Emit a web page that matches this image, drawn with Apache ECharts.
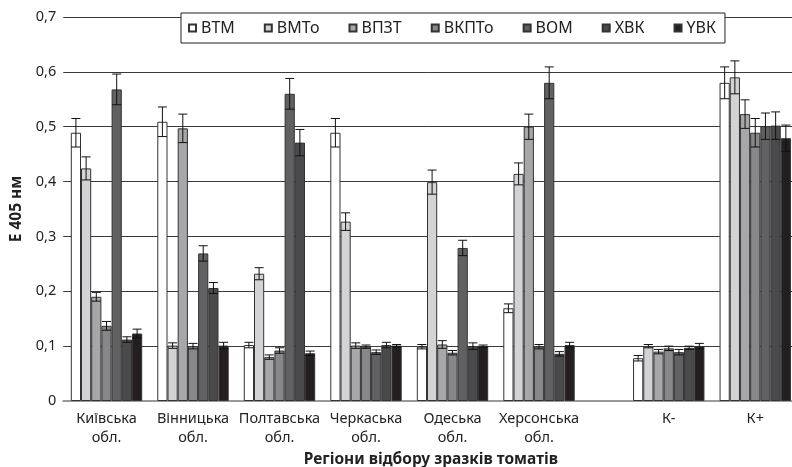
<!DOCTYPE html>
<html>
<head>
<meta charset="utf-8">
<script src="https://cdn.jsdelivr.net/npm/echarts@6/dist/echarts.min.js"></script>
<style>html,body{margin:0;padding:0;background:#fff}#c{width:792px;height:467px}</style>
</head>
<body>
<div id="c"></div>
<script>
// ---- data ----
var categories = ['Київська\nобл.', 'Вінницька\nобл.', 'Полтавська\nобл.', 'Черкаська\nобл.', 'Одеська\nобл.', 'Херсонська\nобл.', 'К-', 'К+'];
var seriesNames = ['ВТМ', 'ВМТо', 'ВПЗТ', 'ВКПТо', 'ВОМ', 'ХВК', 'YВК'];
var vTMV   = [0.489, 0.509, 0.102, 0.489, 0.099, 0.169, 0.078, 0.580];
var vMTo   = [0.424, 0.101, 0.232, 0.327, 0.399, 0.414, 0.100, 0.590];
var vPZT   = [0.190, 0.497, 0.080, 0.101, 0.103, 0.500, 0.090, 0.523];
var vKPTo  = [0.137, 0.100, 0.092, 0.099, 0.088, 0.099, 0.096, 0.489];
var vOM    = [0.568, 0.269, 0.560, 0.089, 0.279, 0.580, 0.089, 0.501];
var vHVK   = [0.112, 0.206, 0.471, 0.102, 0.100, 0.086, 0.097, 0.502];
var vYVK   = [0.123, 0.101, 0.087, 0.101, 0.100, 0.102, 0.100, 0.479];
var eTMV   = [0.026, 0.027, 0.005, 0.026, 0.004, 0.008, 0.005, 0.029];
var eMTo   = [0.021, 0.005, 0.011, 0.016, 0.022, 0.020, 0.003, 0.030];
var ePZT   = [0.008, 0.026, 0.004, 0.005, 0.007, 0.023, 0.004, 0.026];
var eKPTo  = [0.008, 0.005, 0.005, 0.003, 0.004, 0.004, 0.004, 0.026];
var eOM    = [0.028, 0.014, 0.028, 0.004, 0.014, 0.029, 0.005, 0.024];
var eHVK   = [0.005, 0.010, 0.024, 0.005, 0.006, 0.004, 0.003, 0.025];
var eYVK   = [0.008, 0.006, 0.004, 0.002, 0.002, 0.005, 0.005, 0.024];
var yTicks = [0, 0.1, 0.2, 0.3, 0.4, 0.5, 0.6, 0.7];

// ---- layout (not data) ----
var groupSlots = [1, 3, 5, 7, 9, 11, 14, 16];
var slotCount = 18;
var colors = ['#ffffff', '#d3d3d5', '#a7a7a9', '#87878a', '#616163', '#4a4a4c', '#231f20'];
var BAR_W = 10.2;
var FONT = '"Noto Sans", "Open Sans", sans-serif';

var values = [vTMV, vMTo, vPZT, vKPTo, vOM, vHVK, vYVK];
var errors = [eTMV, eMTo, ePZT, eKPTo, eOM, eHVK, eYVK];

var axisCats = [];
for (var s = 0; s < slotCount; s++) axisCats.push('');
categories.forEach(function (c, i) { axisCats[groupSlots[i]] = c; });

var series = [];
seriesNames.forEach(function (name, si) {
  series.push({
    name: name, type: 'bar', barWidth: BAR_W, barGap: '0%',
    itemStyle: { color: colors[si], borderColor: '#333', borderWidth: 1 },
    data: values[si].map(function (v, i) { return [groupSlots[i], v]; }),
    z: 2
  });
});
seriesNames.forEach(function (name, si) {
  series.push({
    type: 'custom', name: name + '_err', z: 5, silent: true,
    data: values[si].map(function (v, i) { return [groupSlots[i], v, errors[si][i]]; }),
    renderItem: function (params, api) {
      var x = api.value(0), v = api.value(1), e = api.value(2);
      var off = (si - (seriesNames.length - 1) / 2) * BAR_W;
      var hi = api.coord([x, v + e]);
      var lo = api.coord([x, v - e]);
      var cx = hi[0] + off;
      var cap = 4.5;
      var st = { stroke: '#111', lineWidth: 1 };
      return { type: 'group', children: [
        { type: 'line', shape: { x1: cx, y1: hi[1], x2: cx, y2: lo[1] }, style: st },
        { type: 'line', shape: { x1: cx - cap, y1: hi[1], x2: cx + cap, y2: hi[1] }, style: st },
        { type: 'line', shape: { x1: cx - cap, y1: lo[1], x2: cx + cap, y2: lo[1] }, style: st }
      ] };
    }
  });
});

var chart = echarts.init(document.getElementById('c'), null, { renderer: 'canvas' });
chart.setOption({
  animation: false,
  backgroundColor: '#fff',
  textStyle: { fontFamily: FONT },
  legend: {
    data: seriesNames, left: 181, top: 13,
    backgroundColor: '#fff', borderColor: '#222', borderWidth: 1,
    padding: [7, 9, 7, 7], itemWidth: 7, itemHeight: 7, itemGap: 29,
    icon: 'rect',
    textStyle: { fontFamily: FONT, fontSize: 16, color: '#222' }
  },
  grid: { left: 63.25, right: -6.5, top: 17, bottom: 66, containLabel: false, outerBoundsMode: 'none' },
  xAxis: {
    type: 'category', data: axisCats, boundaryGap: false,
    axisLine: { show: true, lineStyle: { color: '#9a9a9a', width: 2 } },
    axisTick: { show: false },
    axisLabel: { interval: 0, fontFamily: FONT, fontSize: 14.5, color: '#222', lineHeight: 19, margin: 8 },
    name: 'Регіони відбору зразків томатів', nameLocation: 'middle', nameGap: 49,
    nameTextStyle: { fontFamily: FONT, fontSize: 15.5, fontWeight: 'bold', color: '#222' },
    splitLine: { show: false }
  },
  yAxis: {
    type: 'value', min: yTicks[0], max: yTicks[yTicks.length - 1], interval: 0.1,
    axisLine: { show: false }, axisTick: { show: false },
    axisLabel: { fontFamily: FONT, fontSize: 14.5, color: '#222', margin: 7,
      formatter: function (v) { return String(Math.round(v * 10) / 10).replace('.', ','); } },
    splitLine: { show: true, lineStyle: { color: '#3a3a3a', width: 1 } },
    name: 'E 405 нм', nameLocation: 'middle', nameGap: 30,
    nameTextStyle: { fontFamily: FONT, fontSize: 15.5, fontWeight: 'bold', color: '#222' }
  },
  series: series
});
</script>
</body>
</html>
